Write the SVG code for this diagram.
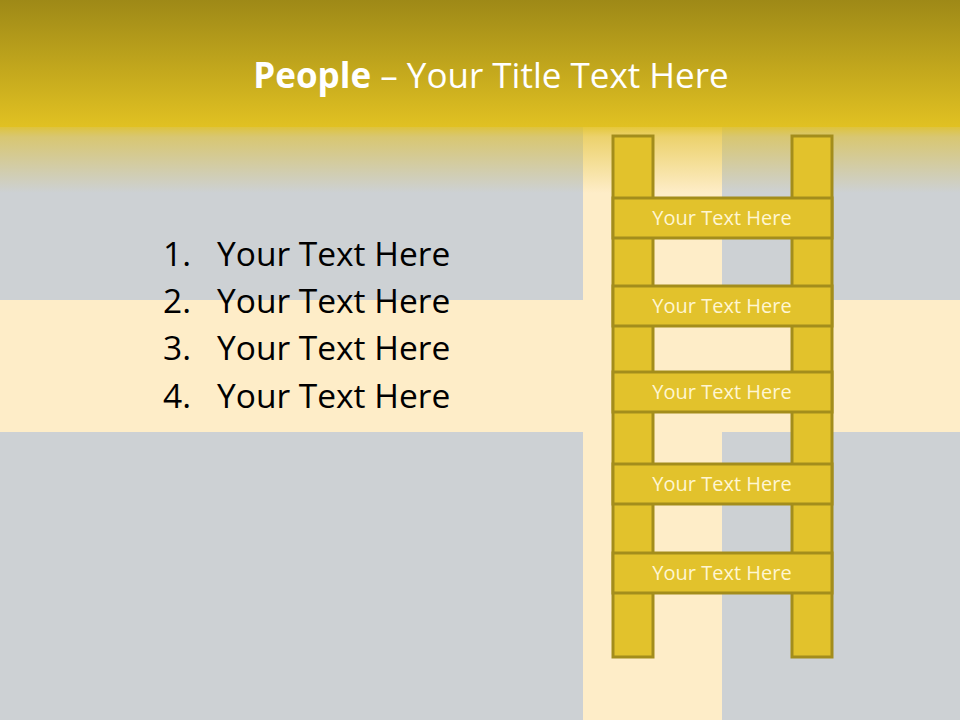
<svg xmlns="http://www.w3.org/2000/svg" width="960" height="720" viewBox="0 0 960 720">
<defs>
<linearGradient id="hdr" x1="0" y1="0" x2="0" y2="1">
<stop offset="0" stop-color="#9E8917"/>
<stop offset="1" stop-color="#E1C122"/>
</linearGradient>
<linearGradient id="fade" x1="0" y1="0" x2="0" y2="1">
<stop offset="0" stop-color="#E1C122" stop-opacity="0.85"/>
<stop offset="0.15" stop-color="#E0C030" stop-opacity="0.6"/>
<stop offset="1" stop-color="#E0C030" stop-opacity="0"/>
</linearGradient>
<style>
.rail{fill:#E2C22C;stroke:#A38D1C;stroke-width:3}
.lbl{font-family:"Open Sans","Liberation Sans",sans-serif;font-size:20px;fill:#FFF6D2;text-anchor:middle}
.li{font-family:"Open Sans","Liberation Sans",sans-serif;font-size:33.5px;fill:#000}
</style>
</defs>
<rect width="960" height="720" fill="#CDD1D4"/>
<rect x="0" y="300" width="960" height="132" fill="#FEEDC8"/>
<rect x="583" y="0" width="139" height="720" fill="#FEEDC8"/>
<rect x="0" y="0" width="960" height="127" fill="url(#hdr)"/>
<rect x="0" y="127" width="960" height="66" fill="url(#fade)"/>
<g id="title">
<text x="491" y="88" text-anchor="middle" font-family="'Open Sans','Liberation Sans',sans-serif" font-size="35" fill="#FFFFFF"><tspan font-weight="bold">People</tspan> – Your Title Text Here</text>
</g>
<g id="list">
<text class="li" x="163" y="266">1.</text><text class="li" x="217" y="266">Your Text Here</text>
<text class="li" x="163" y="313">2.</text><text class="li" x="217" y="313">Your Text Here</text>
<text class="li" x="163" y="360">3.</text><text class="li" x="217" y="360">Your Text Here</text>
<text class="li" x="163" y="408">4.</text><text class="li" x="217" y="408">Your Text Here</text>
</g>
<g id="ladder">
<rect class="rail" x="613" y="136" width="40" height="521"/>
<rect class="rail" x="792" y="136" width="40" height="521"/>
<g id="rung1"><rect class="rail" x="613" y="198" width="219" height="40"/><text class="lbl" x="722" y="225">Your Text Here</text></g>
<g id="rung2"><rect class="rail" x="613" y="286" width="219" height="40"/><text class="lbl" x="722" y="313">Your Text Here</text></g>
<g id="rung3"><rect class="rail" x="613" y="372" width="219" height="40"/><text class="lbl" x="722" y="399">Your Text Here</text></g>
<g id="rung4"><rect class="rail" x="613" y="464" width="219" height="40"/><text class="lbl" x="722" y="491">Your Text Here</text></g>
<g id="rung5"><rect class="rail" x="613" y="553" width="219" height="40"/><text class="lbl" x="722" y="580">Your Text Here</text></g>
</g>
</svg>
